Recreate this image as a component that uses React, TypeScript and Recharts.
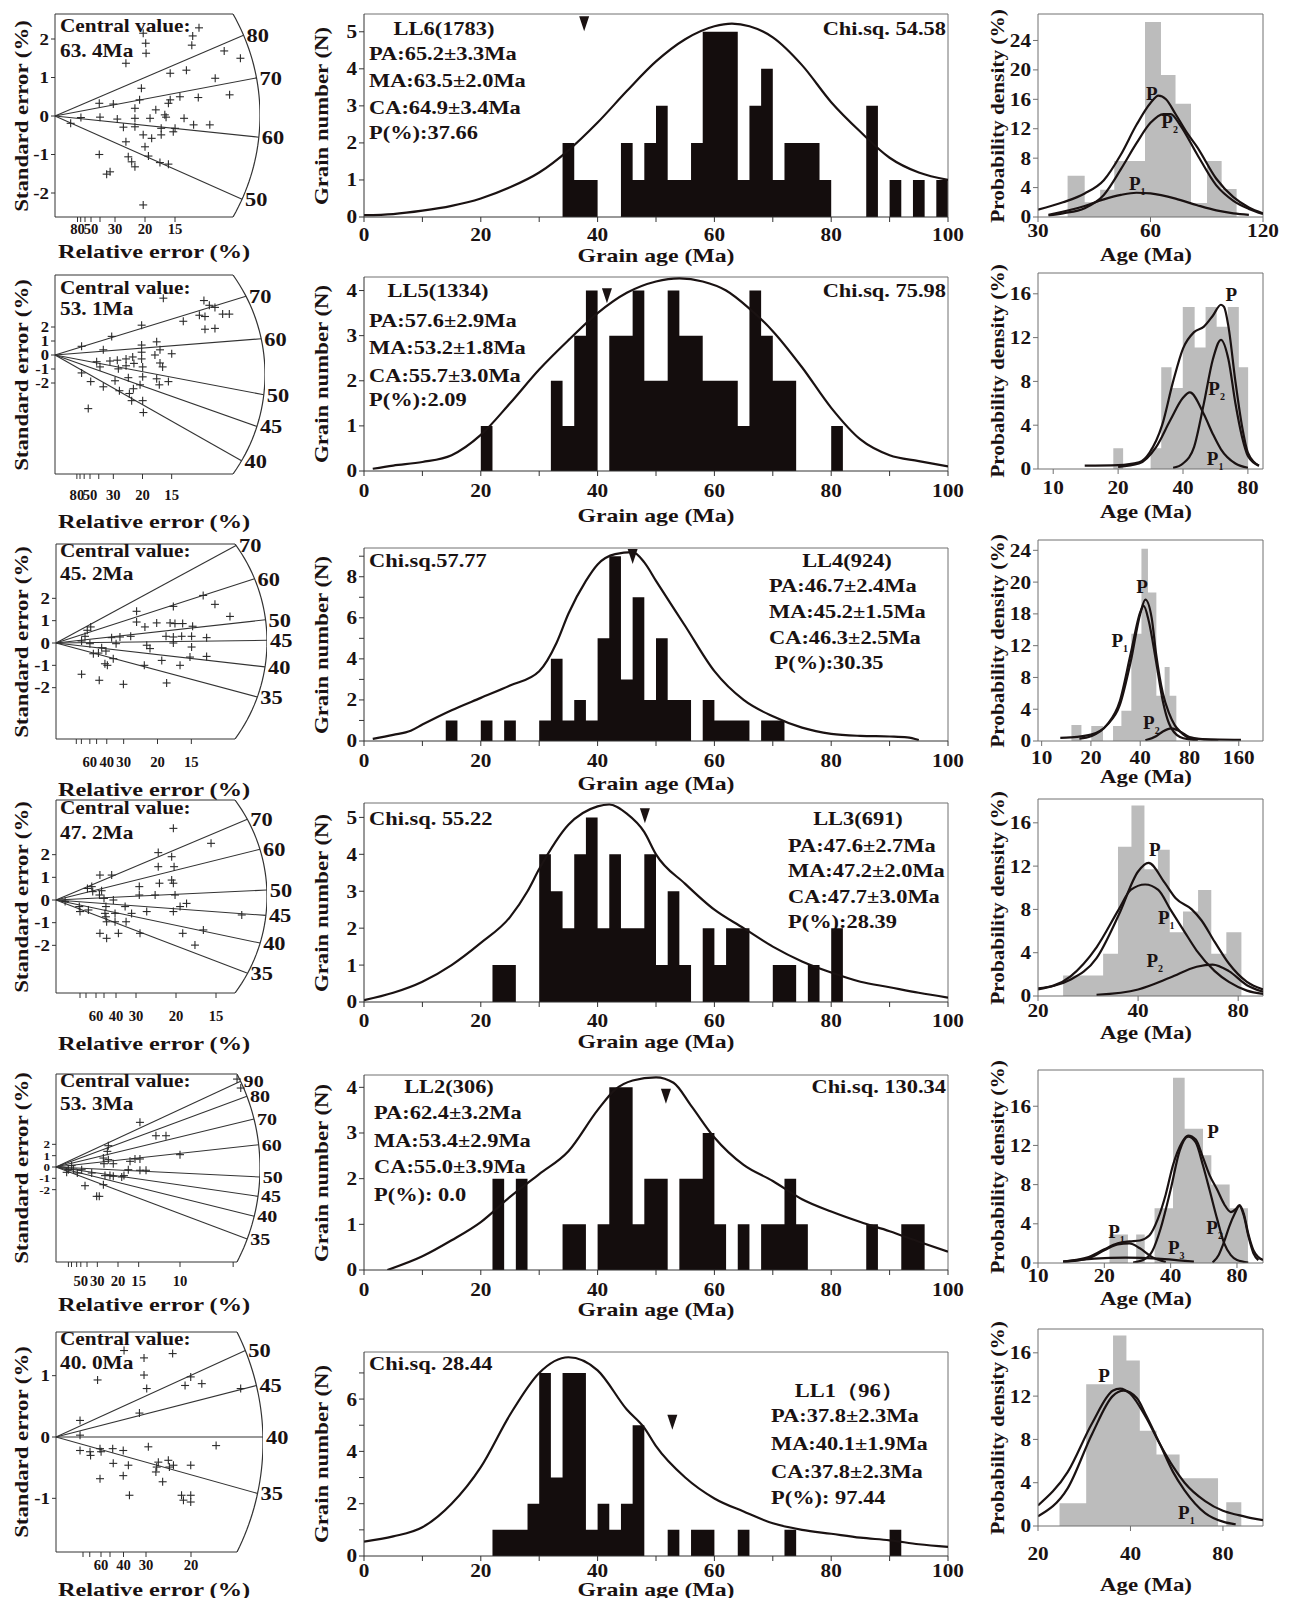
import React from 'react';
import { ComposedChart, Area, Line, Scatter, XAxis, YAxis, ReferenceLine, ReferenceDot } from 'recharts';

const SERIF = '"Liberation Serif", "Times New Roman", Times, serif';
const INK = '#1a1212';
const FRAME = '#707070';
const GRAY = '#bcbcbc';
const SX = 1.18;

// ---------------- Radial plots (left column) ----------------
const radialCentral = ['63. 4Ma', '53. 1Ma', '45. 2Ma', '47. 2Ma', '53. 3Ma', '40. 0Ma'];
const radialYTicks = [[-2, -1, 0, 1, 2], [-2, -1, 0, 1, 2], [-2, -1, 0, 1, 2], [-2, -1, 0, 1, 2], [-2, -1, 0, 1, 2], [-1, 0, 1]];
const radialRelErrLabels = [[80, 50, 30, 20, 15], [80, 50, 30, 20, 15], [60, 40, 30, 20, 15], [60, 40, 30, 20, 15], [50, 30, 20, 15, 10], [60, 40, 30, 20]];
const radialRelErrMinor = [[70, 60, 40], [70, 60, 40], [100, 80, 50], [100, 80, 50], [100, 80, 60, 40, 7], [100, 80, 50]];
const radialArcAges = [[80, 70, 60, 50], [70, 60, 50, 45, 40], [70, 60, 50, 45, 40, 35], [70, 60, 50, 45, 40, 35], [90, 80, 70, 60, 50, 45, 40, 35], [50, 45, 40, 35]];
const radialArcStdErr = [[2.10, 0.99, -0.55, -2.16], [4.2, 1.16, -2.84, -5.1, -7.56], [4.37, 2.88, 1.04, 0.12, -1.07, -2.42], [3.56, 2.24, 0.44, -0.68, -1.9, -3.23], [7.56, 6.24, 4.24, 1.97, -0.88, -2.59, -4.35, -6.35], [1.41, 0.84, 0, -0.92]];

// [precision, standardised estimate]
const ll6Radial = [[4.9,2.15],[5.04,1.89],[5.06,1.63],[3.94,1.37],[7.6,1.84],[7.65,2.08],[8.0,2.29],[9.4,1.69],[10.3,1.5],[8.9,0.98],[6.4,1.11],[7.3,1.19],[4.8,0.72],[9.7,0.55],[7.96,0.48],[6.94,0.5],[6.4,0.42],[6.3,0.33],[4.7,0.42],[3.24,0.31],[2.46,0.33],[4.44,0.2],[5.6,0.16],[6.1,0.03],[6.17,-0.03],[5.28,-0.06],[4.44,-0.06],[3.46,-0.08],[2.5,-0.03],[1.44,-0.04],[0.87,-0.19],[3.8,-0.29],[4.44,-0.28],[5.9,-0.32],[6.67,-0.32],[6.57,-0.41],[7.17,-0.06],[7.7,-0.23],[8.6,-0.23],[4.9,-0.49],[5.37,-0.58],[5.9,-0.49],[3.94,-0.67],[5.0,-0.8],[2.46,-1.0],[4.07,-1.06],[5.19,-1.04],[4.26,-1.19],[4.44,-1.32],[5.83,-1.21],[6.3,-1.25],[2.87,-1.51],[3.06,-1.45],[4.9,-2.31]];
const ll5Radial = [[6.19,4.06],[8.51,3.89],[8.82,3.55],[9.14,3.40],[8.25,2.84],[8.57,2.75],[9.58,2.92],[9.96,2.92],[7.33,2.41],[8.57,1.84],[9.14,1.90],[4.95,2.13],[3.24,1.33],[1.52,0.62],[2.76,0.37],[2.38,-0.48],[2.57,-0.85],[3.14,-0.43],[3.56,-0.37],[3.62,-0.99],[4.06,-0.28],[4.06,-0.77],[4.44,-0.14],[4.51,-0.60],[4.95,-0.28],[5.01,-0.85],[4.95,0.20],[4.95,0.71],[5.71,0.0],[6.0,0.37],[6.0,-0.57],[6.15,-0.85],[5.81,0.94],[6.67,0.09],[5.01,-1.56],[4.19,-1.62],[4.86,-2.13],[5.81,-1.70],[5.96,-2.13],[6.48,-1.90],[3.43,-1.84],[2.76,-2.27],[2.04,-1.90],[1.90,-3.83],[3.68,-2.55],[4.25,-2.75],[4.48,-2.41],[4.38,-3.26],[5.01,-3.26],[5.05,-4.11],[1.52,-1.28]];
const ll4Radial = [[1.26,0.09],[1.43,0.30],[1.54,0.57],[1.71,0.72],[1.67,-0.03],[1.84,-0.48],[2.09,-0.45],[2.25,-0.21],[2.46,-0.36],[2.74,0.24],[2.41,-0.93],[2.53,-1.0],[2.82,-0.70],[1.26,-1.40],[2.13,-1.67],[3.32,-1.85],[2.96,-0.03],[3.15,0.27],[3.68,0.30],[3.97,1.42],[3.97,0.94],[4.38,0.72],[4.47,-0.10],[4.63,-0.25],[4.96,0.90],[4.35,-1.0],[5.62,0.90],[5.78,0.27],[5.42,0.30],[5.78,0.0],[5.21,-0.78],[5.45,-1.79],[5.78,1.64],[5.86,0.87],[6.24,0.87],[6.19,0.30],[6.11,-1.0],[6.73,0.75],[6.68,0.30],[6.68,-0.18],[6.60,-0.63],[7.42,0.24],[7.42,-0.60],[7.83,1.73],[7.25,2.13],[8.57,1.19]];
const ll3Radial = [[0.38,-0.07],[0.97,-0.29],[1.0,-0.51],[1.35,-0.44],[1.31,0.51],[1.49,0.59],[1.53,0.37],[1.83,1.10],[1.81,0.22],[1.90,0.41],[2.0,0.07],[2.08,-0.29],[2.04,-0.59],[2.08,-0.74],[2.11,-0.96],[1.83,-1.47],[2.11,-1.69],[2.32,1.10],[2.39,0.0],[2.46,-0.59],[2.46,-0.96],[2.60,-1.47],[2.88,-0.29],[2.92,-0.96],[3.15,-0.59],[3.47,0.59],[3.47,0.22],[3.50,-1.47],[3.78,-0.51],[4.13,0.22],[4.31,0.74],[4.26,1.47],[4.26,2.09],[4.89,3.16],[4.82,0.88],[4.89,0.74],[4.82,1.91],[4.92,1.47],[4.89,-0.51],[4.96,0.22],[5.17,-0.29],[5.28,-1.47],[5.44,-0.15],[5.79,-1.99],[6.14,-1.32],[6.46,2.50],[7.74,-0.66]];
const ll2Radial = [[14.6,7.76],[14.9,6.97],[6.77,3.94],[8.06,2.76],[8.87,2.76],[10.0,1.09],[4.22,1.88],[4.14,1.38],[3.82,0.79],[4.22,0.65],[4.62,0.29],[3.87,0.29],[5.97,0.5],[6.37,0.71],[6.77,0.71],[5.83,-0.24],[6.77,-0.29],[7.26,-0.29],[1.26,0.12],[1.40,-0.18],[0.99,-0.24],[0.86,-0.47],[2.07,-0.24],[2.88,-0.53],[2.34,-1.65],[3.95,-0.76],[4.35,-0.76],[4.62,-0.82],[5.30,-0.88],[5.48,-0.76],[3.82,-1.56],[3.28,-2.59],[3.49,-2.59],[1.72,-0.53]];
const ll1Radial = [[2.52,1.41],[3.26,1.29],[4.32,1.36],[3.26,1.01],[1.54,0.93],[3.36,0.79],[4.99,0.98],[4.78,0.84],[5.40,0.87],[6.84,0.79],[3.09,0.39],[0.89,0.27],[0.89,0.03],[0.89,-0.22],[1.26,-0.24],[1.28,-0.30],[1.63,-0.19],[1.67,-0.24],[1.63,-0.68],[2.10,-0.19],[2.12,-0.43],[2.49,-0.22],[2.68,-0.46],[2.49,-0.63],[2.72,-0.95],[3.42,-0.16],[3.79,-0.41],[3.73,-0.49],[3.70,-0.57],[3.95,-0.73],[4.16,-0.38],[4.35,-0.46],[4.20,-0.49],[4.99,-0.46],[4.65,-0.95],[4.72,-1.03],[4.99,-0.95],[4.99,-1.06],[5.93,-0.14]];
const radialPoints = [ll6Radial, ll5Radial, ll4Radial, ll3Radial, ll2Radial, ll1Radial];

// radial layout (page pixels)
const radialOrigin = [[55, 116], [55, 355], [56, 643], [56, 900], [56, 1167], [56, 1437]];
const radialBox = [[14, 217], [275, 474], [544, 739], [800, 993], [1074, 1262], [1332, 1552]];
const radialCorner = [233, 233, 235, 235, 237, 237];
const radialBulge = [260, 265, 267, 267, 260, 263];
const radialSx = [18, 17.5, 20.3, 24, 12.4, 27];
const radialSy = [38.5, 14, 22.33, 22.67, 11.33, 61.33];
const radialTickMargin = [2, 11, 13, 13, 9, 3];
const radialYTickSize = [16, 14, 16, 16, 11, 16];
const radialArcLabelSize = [19, 19, 19, 19, 17, 19];
const radialCentralY = [[25, 50], [287, 308], [550, 573], [807, 832], [1080, 1103], [1338, 1362]];
const radialTitleY = [251, 521, 789, 1043, 1304, 1589];

// ---------------- Grain-age histograms (middle column) ----------------
const histNames = ['LL6(1783)', 'LL5(1334)', 'LL4(924)', 'LL3(691)', 'LL2(306)', 'LL1（96）'];
const histStats = [
  ['PA:65.2±3.3Ma', 'MA:63.5±2.0Ma', 'CA:64.9±3.4Ma', 'P(%):37.66'],
  ['PA:57.6±2.9Ma', 'MA:53.2±1.8Ma', 'CA:55.7±3.0Ma', 'P(%):2.09'],
  ['PA:46.7±2.4Ma', 'MA:45.2±1.5Ma', 'CA:46.3±2.5Ma', '\u00a0P(%):30.35'],
  ['PA:47.6±2.7Ma', 'MA:47.2±2.0Ma', 'CA:47.7±3.0Ma', 'P(%):28.39'],
  ['PA:62.4±3.2Ma', 'MA:53.4±2.9Ma', 'CA:55.0±3.9Ma', 'P(%): 0.0'],
  ['PA:37.8±2.3Ma', 'MA:40.1±1.9Ma', 'CA:37.8±2.3Ma', 'P(%): 97.44'],
];
const histChi = ['Chi.sq. 54.58', 'Chi.sq. 75.98', 'Chi.sq.57.77', 'Chi.sq. 55.22', 'Chi.sq. 130.34', 'Chi.sq. 28.44'];

const ll6Starts = [34,36,38,44,46,48,50,52,54,56,58,60,62,64,66,68,70,72,74,76,78,86,90,94,98];
const ll6Counts = [2,1,1,2,1,2,3,1,1,2,5,5,5,1,3,4,1,2,2,2,1,3,1,1,1];
const ll5Starts = [20,32,34,36,38,42,44,46,48,50,52,54,56,58,60,62,64,66,68,70,72,80];
const ll5Counts = [1,2,1,3,4,3,3,4,2,2,4,3,3,2,2,2,1,4,3,2,2,1];
const ll4Starts = [14,20,24,30,32,34,36,38,40,42,44,46,48,50,52,54,58,60,62,64,68,70];
const ll4Counts = [1,1,1,1,4,1,2,1,5,9,3,7,2,5,2,2,2,1,1,1,1,1];
const ll3Starts = [22,24,30,32,34,36,38,40,42,44,46,48,50,52,54,58,60,62,64,70,72,76,80];
const ll3Counts = [1,1,4,3,2,4,5,2,4,2,2,4,1,3,1,2,1,2,2,1,1,1,2];
const ll2Starts = [22,26,34,36,40,42,44,46,48,50,54,56,58,60,64,68,70,72,74,86,92,94];
const ll2Counts = [2,2,1,1,1,4,4,1,2,2,2,2,3,1,1,1,1,2,1,1,1,1];
const ll1Starts = [22,24,26,28,30,32,34,36,38,40,42,44,46,52,56,58,64,72,90];
const ll1Counts = [1,1,1,2,7,3,7,7,1,2,1,2,5,1,1,1,1,1,1];
const histStarts = [ll6Starts, ll5Starts, ll4Starts, ll3Starts, ll2Starts, ll1Starts];
const histCounts = [ll6Counts, ll5Counts, ll4Counts, ll3Counts, ll2Counts, ll1Counts];

const ll6Pdp = [[0,0.05],[5,0.08],[10,0.17],[15,0.3],[20,0.5],[25,0.8],[30,1.2],[35,1.8],[40,2.55],[45,3.4],[50,4.2],[55,4.8],[60,5.15],[63,5.22],[66,5.15],[70,4.85],[75,4.1],[80,3.1],[85,2.3],[90,1.6],[95,1.2],[100,1.0]];
const ll5Pdp = [[1.5,0.05],[5,0.12],[10,0.2],[15,0.35],[20,0.8],[25,1.5],[30,2.25],[35,2.9],[40,3.5],[45,3.95],[50,4.2],[54,4.27],[58,4.2],[62,4.0],[66,3.6],[70,3.1],[75,2.3],[80,1.4],[85,0.7],[90,0.35],[95,0.22],[100,0.1]];
const ll4Pdp = [[1.5,0.1],[5,0.3],[8,0.5],[10,0.8],[15,1.5],[20,2.1],[25,2.7],[30,3.4],[33,4.8],[35,6.2],[38,7.8],[40,8.6],[43,9.1],[46,9.2],[48,8.7],[50,7.8],[55,5.6],[60,3.4],[65,2.0],[70,1.2],[75,0.65],[80,0.35],[85,0.25],[90,0.22],[93,0.18],[95,0.05]];
const ll3Pdp = [[0,0.05],[5,0.25],[10,0.55],[15,1.0],[20,1.6],[25,2.3],[28,3.0],[30,3.6],[35,4.8],[40,5.3],[42,5.35],[45,5.1],[48,4.6],[50,4.0],[55,3.2],[60,2.5],[65,2.0],[70,1.5],[75,1.1],[80,0.8],[85,0.55],[90,0.4],[95,0.25],[100,0.12]];
const ll2Pdp = [[4,0],[10,0.3],[15,0.65],[20,1.05],[25,1.6],[30,2.1],[35,2.6],[40,3.5],[43,3.95],[46,4.15],[50,4.22],[53,4.1],[56,3.6],[60,2.9],[65,2.3],[70,1.95],[75,1.55],[80,1.28],[85,1.05],[90,0.85],[95,0.62],[100,0.4]];
const ll1Pdp = [[0,0.55],[5,0.75],[10,1.1],[15,2.0],[20,3.4],[25,5.4],[30,7.0],[35,7.6],[40,7.1],[45,5.6],[48,4.9],[50,4.2],[55,3.0],[60,2.2],[65,1.7],[70,1.25],[75,1.0],[80,0.85],[85,0.7],[90,0.6],[95,0.45],[100,0.35]];
const histPdp = [ll6Pdp, ll5Pdp, ll4Pdp, ll3Pdp, ll2Pdp, ll1Pdp];
const histMarkAge = [37.7, 41.6, 46, 48.1, 51.7, 52.8];
const histMarkLevel = [5.42, 4.05, 9.35, 5.25, 3.97, 5.4];
const histYMax = [5.48, 4.3, 9.4, 5.39, 4.27, 7.8];
const histYTicks = [[0,1,2,3,4,5],[0,1,2,3,4],[0,1,2,3,4,5,6,7,8,9],[0,1,2,3,4,5],[0,1,2,3,4],[0,1,2,3,4,5,6,7]];
const histYLabelStep = [1, 1, 2, 1, 1, 2];
const histXTicks = [0,10,20,30,40,50,60,70,80,90,100];

// histogram layout
const histLeft = 364, histRight = 948;
const histTop = [14, 277, 548, 803, 1075, 1352];
const histBottom = [217, 471, 741, 1002, 1270, 1556];
const histTickMargin = [6, 8, 8, 7, 8, 3];
const histTitleY = [255, 515, 783, 1041, 1309, 1589];
const histNamePos = [[444, 28], [438, 290], [847, 560], [858, 818], [449, 1086], [849, 1390]];
const histLinesX = [369, 369, 769, 788, 374, 771];
const histLinesY = [[53, 80, 107, 132], [320, 347, 375, 399], [585, 611, 637, 662], [845, 870, 896, 921], [1112, 1140, 1166, 1194], [1415, 1443, 1471, 1497]];
const histChiPos = [[946, 28, 'right'], [946, 290, 'right'], [369, 560, 'left'], [369, 818, 'left'], [946, 1086, 'right'], [369, 1363, 'left']];

// ---------------- Probability density (right column) ----------------
const ll6Edges = [36,40,44,48,53,58,64,70,77,85,93,102];
const ll6Heights = [5.6,2.0,3.7,7.6,7.6,26.5,19.3,15.4,1.9,7.6,3.8];
const ll5Edges = [19,21.1,28.3,31.7,35.4,39.9,45.3,50.9,57.3,64.5,72.6,80.2];
const ll5Heights = [1.9,0,1.9,9.3,7.4,14.8,11.1,14.8,13.0,14.8,9.3];
const ll4Edges = [15.2,17.5,20.1,23.7,27.3,30.7,35.3,40.7,44.6,50.2,56.4,60.5,66.5];
const ll4Heights = [2.0,0,1.9,0,1.9,3.8,13.5,24.2,18.7,5.7,9.3,5.7];
const ll3Edges = [23.8,31.4,34.8,38.2,41.8,45.9,49.8,54.6,60.6,66.4,73.7,81.8];
const ll3Heights = [1.9,3.9,13.8,17.6,11.7,13.5,5.9,7.8,9.8,3.9,5.9];
const ll2Edges = [21.1,25.6,27.9,30.5,33.8,41.0,46.3,56.1,61.2,74.1,89.7];
const ll2Heights = [2.9,0,2.9,0,5.6,18.9,13.7,11.0,8.0,5.6];
const ll1Edges = [23.5,28.7,35.1,38.8,42.9,48.6,57.8,77.1,82,91.8];
const ll1Heights = [2.1,13.1,17.6,15.3,8.8,6.6,4.4,0,2.2];
const densEdges = [ll6Edges, ll5Edges, ll4Edges, ll3Edges, ll2Edges, ll1Edges];
const densHeights = [ll6Heights, ll5Heights, ll4Heights, ll3Heights, ll2Heights, ll1Heights];

const ll6DensP = [[30,1.0],[35,2.0],[40,3.2],[45,5.0],[50,8.5],[55,12.5],[60,15.5],[63,16.5],[66,16.0],[70,14.0],[75,11.5],[80,9.5],[90,5.2],[100,2.7],[110,1.3],[120,0.5]];
const ll6DensP2 = [[32,0.2],[35,0.5],[40,1.2],[45,3.0],[50,6.5],[55,10.0],[60,12.8],[65,14.0],[68,14.0],[72,12.5],[80,8.5],[90,4.3],[100,2.2],[110,1.1],[120,0.4]];
const ll6DensP1 = [[32,0.3],[40,1.5],[45,2.4],[50,3.0],[55,3.3],[60,3.2],[70,2.5],[80,1.6],[90,0.9],[100,0.5],[110,0.3]];
const ll5DensP = [[14,0.3],[20,0.35],[25,0.6],[28,1.5],[32,4.0],[36,8.0],[40,11.0],[45,12.5],[50,13.0],[55,14.0],[60,15.0],[62,14.8],[65,13.0],[70,8.0],[75,4.0],[80,1.5],[90,0.3]];
const ll5DensP1 = [[20,0.2],[25,0.5],[30,2.0],[35,4.5],[40,6.5],[43,7.0],[50,5.0],[55,3.2],[60,1.8],[70,0.5],[80,0.1]];
const ll5DensP2 = [[36,0.1],[40,0.5],[45,2.0],[50,6.0],[55,10.0],[60,11.8],[65,10.0],[70,6.0],[75,3.0],[80,1.2],[90,0.3]];
const ll4DensP = [[13,0.4],[15,0.45],[20,0.8],[25,2.0],[30,4.5],[35,10],[40,16.0],[43,17.8],[47,15.5],[50,11],[55,6],[60,3.5],[65,2],[70,1.2],[80,0.4],[100,0.2],[150,0.15],[165,0.15]];
const ll4DensP1 = [[17,0.3],[20,0.6],[25,2.0],[30,5.0],[35,11],[40,16.2],[42,17.0],[45,15.2],[50,10],[55,5],[60,2.2],[70,0.5],[80,0.2],[90,0.1]];
const ll4DensP2 = [[43,0.1],[50,0.6],[55,1.2],[62,1.6],[70,1.2],[80,0.5],[100,0.2],[120,0.1]];
const ll3DensP = [[20,0.7],[25,1.5],[30,3.5],[35,7.5],[40,11.5],[43,12.3],[48,10.5],[52,9.0],[58,8.0],[62,7.0],[68,5.0],[75,3.0],[85,1.3],[95,0.6]];
const ll3DensP1 = [[20,0.6],[25,1.8],[30,4.5],[35,8.0],[38,9.8],[42,10.3],[46,9.8],[50,8.0],[55,6.0],[60,4.2],[68,2.3],[75,1.3],[85,0.5],[95,0.2]];
const ll3DensP2 = [[30,0.1],[40,0.6],[50,1.7],[60,2.7],[67,2.9],[75,2.3],[85,1.0],[95,0.4]];
const ll2DensP = [[13,0.15],[17,0.6],[20,1.4],[23,2.0],[26,2.2],[29,2.3],[32,2.8],[35,4.5],[38,7],[41,10],[45,12.3],[48,13.0],[52,12.6],[56,10.8],[60,9.0],[65,7.5],[70,6.0],[75,5.2],[79,5.5],[82,5.9],[86,5.0],[90,3],[95,1.3],[100,0.6],[105,0.3]];
const ll2DensMain = [[27,0.05],[30,0.3],[33,1.2],[36,3.5],[40,7.5],[44,11.5],[48,12.9],[52,12.3],[56,10.0],[60,7.5],[65,4.5],[70,2.0],[75,0.8],[80,0.3],[90,0.05]];
const ll2DensP1 = [[13,0.1],[17,0.5],[20,1.3],[23,1.9],[26,2.0],[29,1.5],[33,0.6],[38,0.1]];
const ll2DensP2 = [[62,0.05],[66,0.8],[70,2.2],[74,3.8],[78,5.0],[82,5.8],[86,4.8],[90,2.8],[95,1.0],[100,0.3]];
const ll2DensP3 = [[13,0.15],[18,0.45],[25,0.55],[35,0.45],[45,0.25],[51,0.15]];
const ll1DensP = [[20,1.9],[25,5.0],[30,9.5],[35,12.5],[37,12.7],[40,12.2],[45,10],[50,7.5],[55,5.5],[60,4],[70,2.3],[80,1.4],[90,1.0],[100,0.7],[108,0.55]];
const ll1DensP1 = [[20,0.9],[25,3.5],[30,8.5],[35,12.0],[38,12.5],[42,11.8],[45,10.2],[50,7.5],[55,5],[60,3.3],[70,1.2],[80,0.4],[88,0.15]];
const densCurves = [
  [ll6DensP, ll6DensP2, ll6DensP1],
  [ll5DensP, ll5DensP1, ll5DensP2],
  [ll4DensP, ll4DensP1, ll4DensP2],
  [ll3DensP, ll3DensP1, ll3DensP2],
  [ll2DensP, ll2DensMain, ll2DensP1, ll2DensP2, ll2DensP3],
  [ll1DensP, ll1DensP1],
];
// [name, subscript, age, density]
const densLabels = [
  [['P', '', 60.5, 16.8], ['P', '2', 67.5, 13.0], ['P', '1', 55.3, 4.6]],
  [['P', '', 67, 16.0], ['P', '2', 57.3, 7.4], ['P', '1', 56.4, 1.0]],
  [['P', '', 41, 19.5], ['P', '1', 30, 12.7], ['P', '2', 46.8, 2.4]],
  [['P', '', 44.9, 13.6], ['P', '1', 48.6, 7.3], ['P', '2', 44.9, 3.3]],
  [['P', '', 62.3, 13.5], ['P', '1', 22.7, 3.2], ['P', '3', 42.4, 1.6], ['P', '2', 63.3, 3.7]],
  [['P', '', 32.8, 13.9], ['P', '1', 60.8, 1.3]],
];
const densXDomain = [[30, 120], [8.5, 94], [9.5, 225], [20, 95], [10, 105], [20, 108]];
const densXTicks = [[30, 60, 120], [10, 20, 40, 80], [10, 20, 40, 80, 160], [20, 40, 80], [10, 20, 40, 80], [20, 40, 80]];
const densYMax = [27.6, 17.9, 25.3, 18.2, 19.7, 18.2];
const densYTicks = [[0,4,8,12,16,20,24], [0,4,8,12,16], [0,4,8,12,16,20,24], [0,4,8,12,16], [0,4,8,12,16], [0,4,8,12,16]];
const densYTickLabels = [['0','4','8','12','16','20','24'], ['0','4','8','12','16'], ['0','4','8','12','18','20','24'], ['0','4','8','12','16'], ['0','4','8','12','16'], ['0','4','8','12','16']];

// density layout
const densLeft = 1038, densRight = 1263;
const densTop = [14, 273, 540, 799, 1070, 1329];
const densBottom = [217, 469, 741, 996, 1263, 1526];
const densTickMargin = [2, 7, 5, 3, 1, 16];
const densTitleY = [254, 511, 776, 1032, 1298, 1584];

// ---------------- helpers ----------------
function T({ x, y, children, size = 19, align = 'left', rot = false, stretch = SX }: any) {
  let transform = '';
  let origin = 'left center';
  if (rot) { transform = `translate(-50%,-50%) rotate(-90deg) scaleX(${stretch})`; origin = 'center center'; }
  else if (align === 'center') { transform = `translate(-50%,-50%) scaleX(${stretch})`; origin = 'center center'; }
  else if (align === 'right') { transform = `translate(-100%,-50%) scaleX(${stretch})`; origin = 'right center'; }
  else { transform = `translate(0,-50%) scaleX(${stretch})`; origin = 'left center'; }
  return (
    <div style={{ position: 'absolute', left: x, top: y, whiteSpace: 'nowrap', fontFamily: SERIF, fontWeight: 'bold', fontSize: size, lineHeight: 1, color: INK, transform, transformOrigin: origin }}>
      {children}
    </div>
  );
}

function XTick(props: any) {
  const { x, y, payload, fs, fmt, sx = SX } = props;
  const s = fmt ? fmt(payload.value) : String(payload.value);
  if (!s) return <g />;
  return (
    <g transform={`translate(${x},${y})`}>
      <text transform={`scale(${sx},1)`} textAnchor="middle" dy="0.72em" fontSize={fs} fontFamily={SERIF} fontWeight="bold" fill={INK}>{s}</text>
    </g>
  );
}

function YTick(props: any) {
  const { x, y, payload, fs, fmt } = props;
  const s = fmt ? fmt(payload.value) : String(payload.value);
  if (!s) return <g />;
  return (
    <g transform={`translate(${x},${y})`}>
      <text transform={`scale(${SX},1)`} textAnchor="end" dy="0.36em" fontSize={fs} fontFamily={SERIF} fontWeight="bold" fill={INK}>{s}</text>
    </g>
  );
}

const pairs = (arr: number[][], key = 'v') => arr.map(([x, v]) => ({ x, [key]: v }));

function stepFromStarts(starts: number[], counts: number[], w = 2) {
  const out: any[] = [];
  for (let k = 0; k < starts.length; k++) {
    if (k > 0 && Math.abs(starts[k - 1] + w - starts[k]) > 1e-9) out.push({ x: starts[k - 1] + w, h: 0 });
    out.push({ x: starts[k], h: counts[k] });
  }
  out.push({ x: starts[starts.length - 1] + w, h: 0 });
  return out;
}

function stepFromEdges(edges: number[], heights: number[]) {
  const out: any[] = heights.map((h, k) => ({ x: edges[k], h }));
  out.push({ x: edges[edges.length - 1], h: 0 });
  return out;
}

const Cross = (p: any) => {
  const { cx, cy } = p;
  if (cx == null || cy == null) return <g />;
  return (
    <g stroke="#2a2a2a" strokeWidth={1.1}>
      <line x1={cx - 4} x2={cx + 4} y1={cy} y2={cy} />
      <line x1={cx} x2={cx} y1={cy - 4} y2={cy + 4} />
    </g>
  );
};

// ---------------- panels ----------------
function RadialPanel({ i }: { i: number }) {
  const [ox, oy] = radialOrigin[i];
  const [top, bottom] = radialBox[i];
  const corner = radialCorner[i], bulge = radialBulge[i], sx = radialSx[i], sy = radialSy[i];
  const LS = 56, RS = 52, TS = 22, BS = 44;
  const pw = bulge - ox, ph = bottom - top;
  const xMax = pw / sx, yTop = (oy - top) / sy, yBot = (oy - bottom) / sy;
  const mid = (top + bottom) / 2, half = (bottom - top) / 2, b = bulge - corner;
  const r = (b * b + half * half) / (2 * b), ccx = bulge - r;
  const arcX = (py: number) => ccx + Math.sqrt(Math.max(0, r * r - (py - mid) * (py - mid)));
  const toX = (px: number) => (px - ox) / sx;
  const arc = Array.from({ length: 41 }, (_, k) => { const py = top + (ph * k) / 40; return { x: toX(arcX(py)), y: (oy - py) / sy }; });
  const pts = radialPoints[i].map(([x, y]) => ({ x, y }));
  const labels = radialRelErrLabels[i];
  const ticks = [...labels, ...radialRelErrMinor[i]].map((v) => 100 / v).sort((a, c) => a - c);
  const fmt = (v: number) => { const rr = Math.round(100 / v); return labels.includes(rr) ? String(rr) : ''; };
  const cornerX = toX(corner);
  const ages = radialArcAges[i];
  const lfs = radialArcLabelSize[i];
  const ends = radialArcStdErr[i].map((yv) => ({ x: toX(arcX(oy - yv * sy)), y: yv }));
  return (
    <>
      <div style={{ position: 'absolute', left: ox - LS, top: top - TS }}>
        <ComposedChart width={LS + pw + RS} height={TS + ph + BS} margin={{ top: TS, right: RS, left: 0, bottom: 0 }}>
          <XAxis type="number" dataKey="x" domain={[0, xMax]} allowDataOverflow ticks={ticks} interval={0} height={BS}
            axisLine={false} tickSize={5} tickMargin={radialTickMargin[i]} stroke="#333" tick={<XTick fs={14} sx={1.05} fmt={fmt} />} />
          <YAxis type="number" dataKey="y" domain={[yBot, yTop]} allowDataOverflow ticks={radialYTicks[i]} interval={0} width={LS}
            tickSize={4} stroke="#333" tick={<YTick fs={radialYTickSize[i]} fmt={(v: number) => String(v)} />} />
          <ReferenceLine segment={[{ x: 0, y: yTop }, { x: cornerX, y: yTop }]} stroke="#333" ifOverflow="visible" />
          <ReferenceLine segment={[{ x: 0, y: yBot }, { x: cornerX, y: yBot }]} stroke="#333" ifOverflow="visible" />
          {ends.map((e, k) => (
            <ReferenceLine key={'rl' + k} segment={[{ x: 0, y: 0 }, e]} stroke="#333" strokeWidth={1.1} ifOverflow="visible" />
          ))}
          <Line data={arc} dataKey="y" type="linear" dot={false} activeDot={false} stroke="#333" strokeWidth={1.2} isAnimationActive={false} />
          <Scatter data={pts} shape={Cross} isAnimationActive={false} />
          {ends.map((e, k) => (
            <ReferenceDot key={'rd' + k} x={e.x} y={e.y} r={0} ifOverflow="visible"
              shape={(p: any) => (
                <text x={p.cx + 3} y={p.cy} dy="0.36em" transform={`translate(${(p.cx + 3) * (1 - SX)},0) scale(${SX},1)`}
                  fontFamily={SERIF} fontWeight="bold" fontSize={lfs} fill={INK}>{ages[k]}</text>
              )} />
          ))}
        </ComposedChart>
      </div>
      <T x={60} y={radialCentralY[i][0]} size={19} stretch={1.12}>Central value:</T>
      <T x={60} y={radialCentralY[i][1]} size={19} stretch={1.12}>{radialCentral[i]}</T>
      <T x={21} y={(top + bottom) / 2} rot size={19} stretch={1.2}>Standard error (%)</T>
      <T x={154} y={radialTitleY[i]} align="center" size={19} stretch={1.28}>Relative error (%)</T>
    </>
  );
}

function HistPanel({ i }: { i: number }) {
  const pt = histTop[i], pb = histBottom[i];
  const LS = 48, RS = 28, TS = 8, BS = 36;
  const pw = histRight - histLeft, ph = pb - pt;
  const hist = stepFromStarts(histStarts[i], histCounts[i]);
  const pdp = pairs(histPdp[i]);
  const yMax = histYMax[i];
  const step = histYLabelStep[i];
  const [nx, ny] = histNamePos[i];
  const [cx, cy, ca] = histChiPos[i] as any;
  return (
    <>
      <div style={{ position: 'absolute', left: histLeft - LS, top: pt - TS }}>
        <ComposedChart width={LS + pw + RS} height={TS + ph + BS} margin={{ top: TS, right: RS, left: 0, bottom: 0 }}>
          <XAxis type="number" dataKey="x" domain={[0, 100]} allowDataOverflow ticks={histXTicks} interval={0} height={BS}
            tickSize={5} tickMargin={histTickMargin[i]} stroke="#333" tick={<XTick fs={18} fmt={(v: number) => (v % 20 === 0 ? String(v) : '')} />} />
          <YAxis type="number" domain={[0, yMax]} allowDataOverflow ticks={histYTicks[i]} interval={0} width={LS}
            tickSize={5} stroke="#333" tick={<YTick fs={18} fmt={(v: number) => (v % step === 0 ? String(v) : '')} />} />
          <ReferenceLine y={yMax} stroke={FRAME} />
          <ReferenceLine x={100} stroke={FRAME} />
          <Area data={hist} dataKey="h" type="stepAfter" fill="#140d0d" fillOpacity={1} stroke="none" isAnimationActive={false} />
          <Line data={pdp} dataKey="v" type="monotone" dot={false} activeDot={false} stroke={INK} strokeWidth={2.2} isAnimationActive={false} />
          <ReferenceDot x={histMarkAge[i]} y={histMarkLevel[i]} r={0} ifOverflow="visible"
            shape={(p: any) => <path d={`M${p.cx - 5},${p.cy} L${p.cx + 5},${p.cy} L${p.cx},${p.cy + 15} Z`} fill={INK} />} />
        </ComposedChart>
      </div>
      <T x={nx} y={ny} align="center" size={19}>{histNames[i]}</T>
      {histStats[i].map((s, k) => (
        <T key={k} x={histLinesX[i]} y={histLinesY[i][k]} size={19}>{s}</T>
      ))}
      <T x={cx} y={cy} align={ca} size={19}>{histChi[i]}</T>
      <T x={321} y={(pt + pb) / 2} rot size={19} stretch={1.2}>Grain number (N)</T>
      <T x={(histLeft + histRight) / 2} y={histTitleY[i]} align="center" size={19} stretch={1.25}>Grain age (Ma)</T>
    </>
  );
}

function DensityPanel({ i }: { i: number }) {
  const pt = densTop[i], pb = densBottom[i];
  const LS = 54, RS = 20, TS = 10, BS = 40;
  const pw = densRight - densLeft, ph = pb - pt;
  const hist = stepFromEdges(densEdges[i], densHeights[i]);
  const [x0, x1] = densXDomain[i];
  const yMax = densYMax[i];
  const yt = densYTicks[i], ytl = densYTickLabels[i];
  return (
    <>
      <div style={{ position: 'absolute', left: densLeft - LS, top: pt - TS }}>
        <ComposedChart width={LS + pw + RS} height={TS + ph + BS} margin={{ top: TS, right: RS, left: 0, bottom: 0 }}>
          <XAxis type="number" dataKey="x" scale="log" domain={[x0, x1]} allowDataOverflow ticks={densXTicks[i]} interval={0} height={BS}
            tickSize={5} tickMargin={densTickMargin[i]} stroke={FRAME} tick={<XTick fs={18} />} />
          <YAxis type="number" domain={[0, yMax]} allowDataOverflow ticks={yt} interval={0} width={LS}
            tickSize={5} stroke={FRAME} tick={<YTick fs={18} fmt={(v: number) => ytl[yt.indexOf(v)] ?? ''} />} />
          <ReferenceLine y={yMax} stroke={FRAME} />
          <ReferenceLine x={x1} stroke={FRAME} />
          <Area data={hist} dataKey="h" type="stepAfter" fill={GRAY} fillOpacity={1} stroke="none" isAnimationActive={false} />
          {densCurves[i].map((c, k) => (
            <Line key={k} data={pairs(c)} dataKey="v" type="monotone" dot={false} activeDot={false} stroke={INK} strokeWidth={2.2} isAnimationActive={false} />
          ))}
          {densLabels[i].map(([nm, sub, ax, ay]: any, k: number) => (
            <ReferenceDot key={'pl' + k} x={ax} y={ay} r={0} ifOverflow="visible"
              shape={(p: any) => (
                <text x={p.cx} y={p.cy} dy="0.36em" textAnchor="middle" fontFamily={SERIF} fontWeight="bold" fontSize={19} fill={INK}>
                  {nm}{sub ? <tspan fontSize={10} dy={5}>{sub}</tspan> : null}
                </text>
              )} />
          ))}
        </ComposedChart>
      </div>
      <T x={997} y={(pt + pb) / 2} rot size={19} stretch={1.12}>Probability density (%)</T>
      <T x={1146} y={densTitleY[i]} align="center" size={19} stretch={1.2}>Age (Ma)</T>
    </>
  );
}

export default function App() {
  const rows = [0, 1, 2, 3, 4, 5];
  return (
    <div style={{ position: 'absolute', left: 0, top: 0, width: 1290, height: 1598, background: '#fff', overflow: 'hidden' }}>
      {rows.map((i) => <RadialPanel key={'r' + i} i={i} />)}
      {rows.map((i) => <HistPanel key={'h' + i} i={i} />)}
      {rows.map((i) => <DensityPanel key={'d' + i} i={i} />)}
    </div>
  );
}
